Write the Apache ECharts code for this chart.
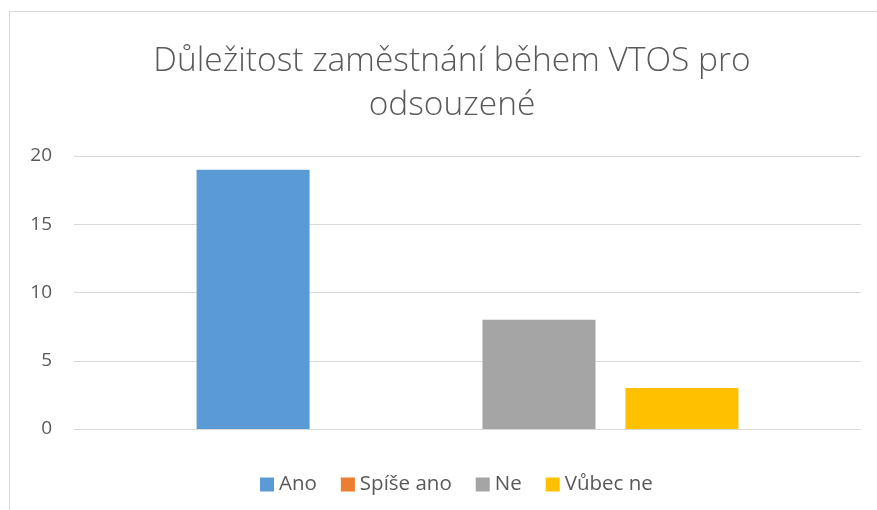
<!DOCTYPE html>
<html>
<head>
<meta charset="utf-8">
<script src="https://cdn.jsdelivr.net/npm/echarts@6/dist/echarts.min.js"></script>
<style>
  html, body { margin: 0; padding: 0; background: #fff; }
  #chart { width: 877px; height: 510px; }
</style>
</head>
<body>
<div id="chart"></div>
<script>
// data
const categories = ['']
const seriesNames = ['Ano', 'Spíše ano', 'Ne', 'Vůbec ne']
const seriesValues = [19, 0, 8, 3]
const seriesColors = ['#5b9bd5', '#ed7d31', '#a5a5a5', '#ffc000']
const yTicks = [0, 5, 10, 15, 20]

const fontFamily = '"Open Sans", "Noto Sans", sans-serif'
const textColor = '#595959'

const myChart = echarts.init(document.getElementById('chart'), null, { renderer: 'canvas' })

const option = {
  animation: false,
  backgroundColor: '#fff',
  graphic: [
    {
      type: 'rect',
      silent: true,
      shape: { x: 9.5, y: 11.5, width: 900, height: 600 },
      style: { fill: 'none', stroke: '#d9d9d9', lineWidth: 1 }
    }
  ],
  title: {
    text: 'Důležitost zaměstnání během VTOS pro\nodsouzené',
    left: 447,
    top: 34,
    textAlign: 'center',
    textStyle: {
      fontFamily: fontFamily,
      fontWeight: 300,
      fontSize: 33.5,
      color: textColor,
      lineHeight: 44
    }
  },
  legend: {
    data: seriesNames,
    left: 255,
    top: 469,
    icon: 'rect',
    itemWidth: 14,
    itemHeight: 14,
    itemGap: 24,
    textStyle: {
      fontFamily: fontFamily,
      fontSize: 20.5,
      color: textColor
    }
  },
  grid: {
    left: 74,
    right: 16,
    top: 156,
    bottom: 81,
    containLabel: false
  },
  xAxis: {
    type: 'category',
    data: categories,
    axisLine: { show: false },
    axisTick: { show: false },
    axisLabel: { show: false }
  },
  yAxis: {
    type: 'value',
    min: yTicks[0],
    max: yTicks[yTicks.length - 1],
    interval: 5,
    axisLine: { show: false },
    axisTick: { show: false },
    axisLabel: {
      fontFamily: fontFamily,
      fontSize: 19,
      color: textColor,
      margin: 22
    },
    splitLine: { lineStyle: { color: '#d9d9d9', width: 1 } }
  },
  series: seriesNames.map((name, i) => ({
    name: name,
    type: 'bar',
    data: [seriesValues[i]],
    barWidth: 113,
    barGap: '26.5%',
    itemStyle: { color: seriesColors[i] }
  }))
}

myChart.setOption(option)
</script>
</body>
</html>
